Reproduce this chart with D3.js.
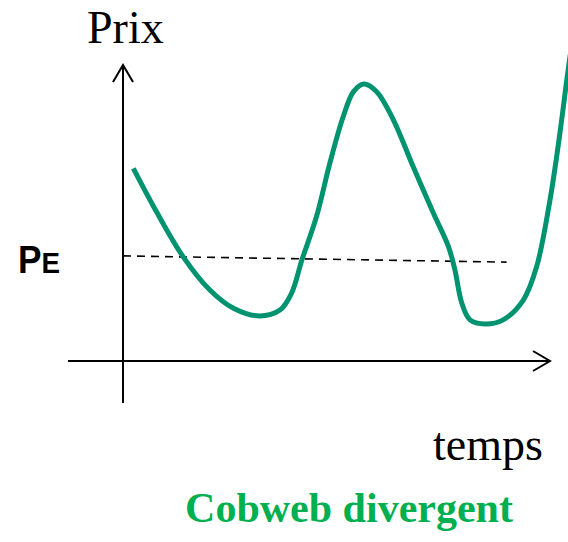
<!DOCTYPE html>
<html>
<head>
<meta charset="utf-8">
<script src="https://cdn.jsdelivr.net/npm/d3@7"></script>
<style>
  body { margin:0; background:#fff; }
</style>
</head>
<body>
<div id="allContainer"></div>
<script>
// schematic price path (time, price)
var timeVals  = [0.24, 0.78, 1.40, 2.02, 2.57, 3.17, 3.65, 3.92, 4.16, 4.50, 4.81, 5.12, 5.36, 5.60,
                 5.90, 6.29, 6.75, 7.22, 7.57, 7.72, 7.88, 8.07, 8.42, 8.84, 9.31, 9.62, 9.93, 10.16, 10.32, 10.40];
var priceVals = [6.51, 5.04, 3.52, 2.40, 1.78, 1.52, 1.72, 2.29, 3.41, 4.88, 6.68, 8.25, 9.10, 9.36,
                 9.10, 8.14, 6.56, 4.99, 3.86, 3.07, 1.95, 1.39, 1.25, 1.39, 2.06, 3.19, 5.44, 7.69, 9.49, 10.34];
// equilibrium price line
var eqTime  = [0, 8.92];
var eqPrice = [3.55, 3.34];

var wid = 568, hei = 542;

var svg = d3.select("#allContainer")
    .append("svg")
    .attr("width", wid)
    .attr("height", hei);

var xScale = d3.scaleLinear().domain([0, 10]).range([123, 553]);
var yScale = d3.scaleLinear().domain([0, 10]).range([361, 65]);

var data = timeVals.map(function (t, i) { return { t: t, p: priceVals[i] }; });
var eqData = eqTime.map(function (t, i) { return { t: t, p: eqPrice[i] }; });

// axes
svg.append("line")
    .attr("x1", xScale(0)).attr("x2", xScale(0))
    .attr("y1", 403).attr("y2", yScale(10))
    .attr("stroke", "#000").attr("stroke-width", 2);

svg.append("line")
    .attr("x1", 68).attr("x2", 550)
    .attr("y1", yScale(0)).attr("y2", yScale(0))
    .attr("stroke", "#000").attr("stroke-width", 2);

// arrow heads
svg.append("path")
    .attr("d", "M" + (xScale(0) - 10) + "," + (yScale(10) + 17) + "L" + xScale(0) + "," + yScale(10) + "L" + (xScale(0) + 10) + "," + (yScale(10) + 17))
    .attr("fill", "none").attr("stroke", "#000").attr("stroke-width", 2);

svg.append("path")
    .attr("d", "M533,351L550," + yScale(0) + "L533,371")
    .attr("fill", "none").attr("stroke", "#000").attr("stroke-width", 2);

// equilibrium dashed line
var line = d3.line()
    .x(function (d) { return xScale(d.t); })
    .y(function (d) { return yScale(d.p); });

svg.append("path")
    .datum(eqData)
    .attr("d", line)
    .attr("fill", "none")
    .attr("stroke", "#000")
    .attr("stroke-width", 1.6)
    .attr("stroke-dasharray", "8,6");

// price curve
svg.append("path")
    .datum(data)
    .attr("d", line.curve(d3.curveCatmullRom.alpha(0.5)))
    .attr("fill", "none")
    .attr("stroke", "#00936F")
    .attr("stroke-width", 5)
    .attr("stroke-linecap", "butt");

// labels
svg.append("text")
    .attr("x", 87).attr("y", 43)
    .attr("font-family", "Liberation Serif, Times New Roman, serif")
    .attr("font-size", 46)
    .text("Prix");

var pe = svg.append("text")
    .attr("x", 18).attr("y", 273)
    .attr("font-family", "Liberation Sans, Arial, sans-serif")
    .attr("font-weight", "bold")
    .attr("font-size", 38)
    .attr("textLength", 42)
    .attr("lengthAdjust", "spacingAndGlyphs");
pe.append("tspan").text("P");
pe.append("tspan").attr("font-size", 30).text("E");

svg.append("text")
    .attr("x", 433).attr("y", 460)
    .attr("font-family", "Liberation Serif, Times New Roman, serif")
    .attr("font-size", 46)
    .text("temps");

svg.append("text")
    .attr("x", 349).attr("y", 522)
    .attr("text-anchor", "middle")
    .attr("font-family", "Liberation Serif, Times New Roman, serif")
    .attr("font-weight", "bold")
    .attr("font-size", 42)
    .attr("fill", "#00B050")
    .text("Cobweb divergent");
</script>
</body>
</html>
